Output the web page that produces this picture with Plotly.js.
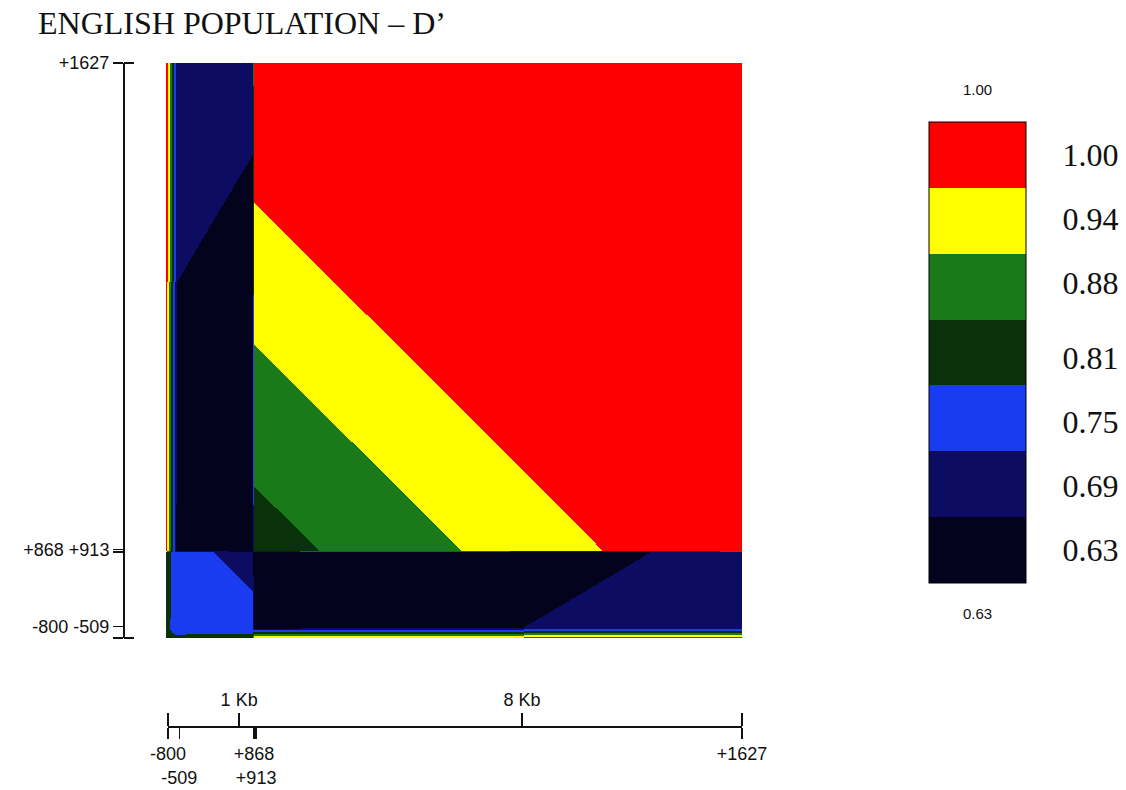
<!DOCTYPE html>
<html>
<head>
<meta charset="utf-8">
<script src="https://cdn.plot.ly/plotly-3.0.1.min.js"></script>
<style>html,body{margin:0;padding:0;background:#fff;}#chart{width:1126px;height:790px;}</style>
</head>
<body>
<div id="chart"></div>
<script>
// Marker names and their positions along the region (kb)
const markerLabels = ['-800', '-509', '+868', '+913', '+1627'];
const markerKb = [-0.76, -0.48, 1.37, 1.42, 13.44];

// D' values at the marker grid nodes (rows = y marker, cols = x marker)
const dpRow800  = [0.788, 0.788, 0.82,  1.00,  1.00];
const dpRow509  = [0.788, 0.775, 0.74,  0.62,  0.694];
const dpRow868  = [0.82,  0.74,  0.704, 0.60,  0.675];
const dpRow913  = [1.00,  0.62,  0.60,  0.818, 1.03];
const dpRow1627 = [1.00,  0.694, 0.675, 1.03,  1.24];

// Legend classes (top to bottom)
const legendValues = [1.00, 0.94, 0.88, 0.81, 0.75, 0.69, 0.63];
const legendColors = ['#ff0000', '#ffff00', '#1a7a1a', '#0a320a', '#1a3cf0', '#0c0c62', '#03031e'];

// Left axis labels and ruler scale marks
const yAxisLabels = ['', '-800 -509', '', '+868 +913', '+1627'];
const scaleKb = [1, 8];
const scaleLabels = ['1 Kb', '8 Kb'];

const titleText = 'ENGLISH POPULATION \u2013 D\u2019';

// ---- build ----
const W = 1126, H = 790;
const px = v => v / W, py = v => 1 - v / H;

const z = [dpRow800, dpRow509, dpRow868, dpRow913, dpRow1627];
const n = legendValues.length;
const vMax = Math.max(...legendValues), vMin = Math.min(...legendValues);
const step = (vMax - vMin) / (n - 1);
const zmin = vMin - step / 2, zmax = vMax + step / 2;

const colorsBottomUp = legendColors.slice().reverse();
const colorscale = [];
colorsBottomUp.forEach((c, i) => {
  colorscale.push([i / n, c]);
  colorscale.push([(i + 1) / n, c]);
});

const range = [markerKb[0], markerKb[markerKb.length - 1]];
const rulerText = markerLabels.map((l, i) => (i === 1 || i === 3) ? '<br>' + l : l);

// colour-key box geometry (pixels)
const cbLeft = 929, cbTop = 122, cbLen = 461, cbThick = 97;
const rulerY = 726;

const heat = {
  type: 'heatmap',
  x: markerKb, y: markerKb, z: z,
  zsmooth: 'best',
  zmin: zmin, zmax: zmax,
  colorscale: colorscale,
  hoverinfo: 'skip',
  colorbar: {
    x: px(cbLeft), xanchor: 'left', xpad: 0,
    y: py(cbTop), yanchor: 'top', ypad: 0,
    len: cbLen, lenmode: 'pixels',
    thickness: cbThick, thicknessmode: 'pixels',
    outlinecolor: '#000', outlinewidth: 1,
    tickmode: 'array', tickvals: legendValues,
    ticktext: legendValues.map(v => v.toFixed(2)),
    ticks: 'outside', ticklen: 30, tickcolor: 'rgba(0,0,0,0)',
    tickfont: {family: 'Liberation Serif', size: 32, color: '#111'}
  }
};

const ghost = (xa, ya) => ({
  type: 'scatter', mode: 'markers', x: markerKb, y: markerKb,
  xaxis: xa, yaxis: ya, marker: {opacity: 0, size: 1},
  hoverinfo: 'skip', showlegend: false
});

const axFont = {family: 'Liberation Sans', size: 18, color: '#111'};

// thin separators between colour-key bands
const separators = [];
for (let k = 1; k < n; k++) {
  const yy = cbTop + k * cbLen / n;
  separators.push({type: 'line', xref: 'paper', yref: 'paper',
    x0: px(cbLeft), x1: px(cbLeft + cbThick), y0: py(yy), y1: py(yy),
    line: {color: 'rgba(20,20,20,0.75)', width: 1}});
}

const layout = {
  width: W, height: H,
  margin: {l: 0, r: 0, t: 0, b: 0, pad: 0},
  paper_bgcolor: '#fff', plot_bgcolor: 'rgba(0,0,0,0)',
  font: {family: 'Liberation Sans', color: '#111'},
  showlegend: false,
  title: {
    text: titleText, x: px(38), xanchor: 'left', xref: 'paper',
    y: py(23), yanchor: 'middle', yref: 'paper',
    font: {family: 'Liberation Serif', size: 32, color: '#111'}
  },
  xaxis: {domain: [px(166), px(742)], range: range, visible: false, fixedrange: true},
  yaxis: {domain: [py(638), py(63)], range: range, visible: false, fixedrange: true},
  yaxis2: {
    overlaying: 'y', anchor: 'free', position: px(123), side: 'left', range: range,
    showline: true, linecolor: '#111', linewidth: 1.5, showgrid: false, zeroline: false,
    ticks: 'outside', ticklen: 10, tickwidth: 1.5, tickcolor: '#111',
    tickmode: 'array', tickvals: markerKb, ticktext: yAxisLabels, tickfont: axFont
  },
  yaxis3: {
    overlaying: 'y', anchor: 'free', position: px(123), side: 'right', range: range,
    showline: false, showgrid: false, zeroline: false,
    ticks: 'outside', ticklen: 10, tickwidth: 1.5, tickcolor: '#111',
    tickmode: 'array', tickvals: [range[0], range[1]], showticklabels: false
  },
  xaxis2: {
    domain: [px(168), px(742)], anchor: 'free', position: 1 - rulerY / H, side: 'bottom', range: range,
    showline: true, linecolor: '#111', linewidth: 1.5, showgrid: false, zeroline: false,
    ticks: 'outside', ticklen: 11, tickwidth: 1.5, tickcolor: '#111', tickangle: 0,
    tickmode: 'array', tickvals: markerKb, ticktext: rulerText, tickfont: axFont
  },
  xaxis3: {
    overlaying: 'x2', anchor: 'free', position: 1 - rulerY / H, side: 'top', range: range,
    showline: false, showgrid: false, zeroline: false,
    ticks: 'outside', ticklen: 13, tickwidth: 1.5, tickcolor: '#111', tickangle: 0,
    tickmode: 'array', tickvals: [range[0]].concat(scaleKb, [range[1]]),
    ticktext: [''].concat(scaleLabels, ['']), tickfont: axFont
  },
  shapes: separators,
  annotations: [
    {text: vMax.toFixed(2), xref: 'paper', yref: 'paper', x: px(cbLeft + cbThick / 2), y: py(90),
     xanchor: 'center', yanchor: 'middle', showarrow: false,
     font: {family: 'Liberation Sans', size: 15, color: '#111'}},
    {text: vMin.toFixed(2), xref: 'paper', yref: 'paper', x: px(cbLeft + cbThick / 2), y: py(613),
     xanchor: 'center', yanchor: 'middle', showarrow: false,
     font: {family: 'Liberation Sans', size: 15, color: '#111'}}
  ]
};

Plotly.newPlot('chart', [heat, ghost('x', 'y2'), ghost('x', 'y3'), ghost('x2', 'y'), ghost('x3', 'y')], layout, {displayModeBar: false, staticPlot: true});
</script>
</body>
</html>
